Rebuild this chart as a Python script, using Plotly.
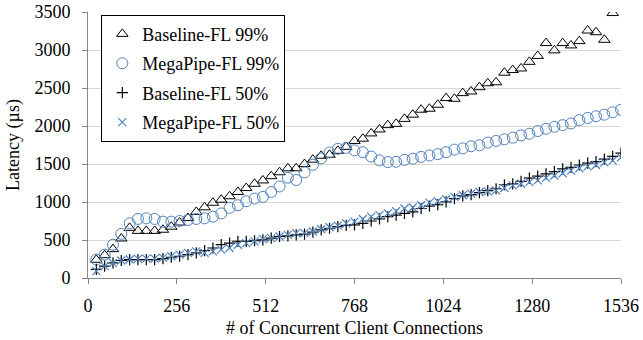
import plotly.graph_objects as go

x_vals = [24 * i for i in range(1, 65)]

baseline_99 = [240, 300, 380, 520, 660, 620, 620, 620, 635, 675, 730, 790, 870, 930, 990, 1030,
               1076, 1132, 1184, 1240, 1284, 1340, 1392, 1444, 1444, 1500, 1557, 1609, 1622, 1674, 1726,
               1804, 1834, 1903, 1955, 2012, 2029, 2094, 2150, 2215, 2228, 2280, 2368, 2359, 2433, 2455, 2511,
               2563, 2576, 2702, 2737, 2758, 2845, 2923, 3092, 2996, 3092, 3061, 3118, 3257, 3235, 3135, 3487]

megapipe_99 = [243, 308, 438, 581, 720, 777, 785, 777, 742, 742, 750, 763, 777, 785, 807, 850,
               924, 958, 1010, 1045, 1067, 1132, 1205, 1320, 1290, 1390, 1490, 1575, 1652, 1700, 1712,
               1680, 1656, 1598, 1548, 1526, 1530, 1555, 1570, 1594, 1613, 1630, 1656, 1690, 1706, 1734, 1747,
               1782, 1804, 1825, 1847, 1877, 1899, 1934, 1964, 1990, 2012, 2034, 2077, 2107, 2129, 2150, 2181, 2215]

baseline_50 = [113, 156, 199, 230, 243, 243, 243, 243, 256, 273, 286, 308, 330, 360, 395, 438,
               460, 481, 481, 490, 503, 525, 546, 555, 568, 577, 603, 633, 655, 676, 692,
               698, 720, 750, 777, 807, 828, 850, 871, 915, 945, 967, 1002, 1045, 1080, 1097, 1123,
               1150, 1175, 1227, 1240, 1271, 1314, 1340, 1370, 1401, 1435, 1457, 1487, 1513, 1531, 1565, 1600, 1643]

megapipe_50 = [91, 156, 199, 230, 243, 251, 256, 256, 265, 286, 308, 330, 351, 330, 351, 373,
               395, 438, 460, 481, 512, 525, 546, 568, 590, 590, 612, 642, 668, 690, 720,
               742, 777, 807, 828, 850, 880, 915, 928, 958, 993, 1010, 1037, 1067, 1089, 1110, 1132,
               1140, 1154, 1184, 1219, 1240, 1262, 1284, 1318, 1349, 1379, 1414, 1444, 1470, 1487, 1522, 1544, 1587]

x_ticks = [0, 256, 512, 768, 1024, 1280, 1536]
y_ticks = [0, 500, 1000, 1500, 2000, 2500, 3000, 3500]

BLUE = "#4F81BD"
FONT = "Times New Roman"

fig = go.Figure()
fig.add_trace(go.Scatter(x=x_vals[:len(baseline_99)], y=baseline_99, mode="markers", name="Baseline-FL 99%",
                         legendgroup="a",
                         marker=dict(symbol="triangle-up-open", size=10, color="black", line=dict(width=1, color="black"))))
fig.add_trace(go.Scatter(x=x_vals, y=megapipe_99, mode="markers", name="MegaPipe-FL 99%",
                         legendgroup="b",
                         marker=dict(symbol="circle-open", size=11, color=BLUE, line=dict(width=1, color=BLUE))))
fig.add_trace(go.Scatter(x=x_vals, y=baseline_50, mode="markers", name="Baseline-FL 50%",
                         legendgroup="c",
                         marker=dict(symbol="cross-thin-open", size=8, color="black", line=dict(width=1.2, color="black"))))
fig.add_trace(go.Scatter(x=x_vals, y=megapipe_50, mode="markers", name="MegaPipe-FL 50%",
                         legendgroup="d",
                         marker=dict(symbol="x-thin-open", size=8, color=BLUE, line=dict(width=1.2, color=BLUE))))

fig.update_layout(
    width=643, height=340,
    margin=dict(l=88, r=22, t=12, b=62),
    paper_bgcolor="white", plot_bgcolor="white",
    font=dict(family=FONT, size=18, color="black"),
    showlegend=True,
    legend=dict(x=0.025, y=0.99, xanchor="left", yanchor="top",
                bordercolor="black", borderwidth=1, bgcolor="white",
                font=dict(family=FONT, size=18, color="black"),
                itemwidth=30, tracegroupgap=3, traceorder="grouped"),
    xaxis=dict(range=[0, 1536], tickvals=x_ticks, ticktext=[str(v) for v in x_ticks],
               showgrid=False, zeroline=False, showline=True, linecolor="#868686", linewidth=1,
               ticks="outside", ticklen=5, tickcolor="#868686", ticklabelstandoff=6,
               tickfont=dict(family=FONT, size=18), ticklabeloverflow="allow", automargin=False,
               title=dict(text="# of Concurrent Client Connections", font=dict(family=FONT, size=18), standoff=6)),
    yaxis=dict(range=[0, 3501], tickvals=y_ticks, ticktext=[str(v) for v in y_ticks],
               showgrid=True, gridcolor="#D9D9D9", gridwidth=1, zeroline=False,
               showline=True, linecolor="#868686", linewidth=1,
               ticks="outside", ticklen=5, tickcolor="#868686", ticklabelstandoff=8,
               tickfont=dict(family=FONT, size=18), ticklabeloverflow="allow", automargin=False,
               title=dict(text="Latency (µs)", font=dict(family=FONT, size=18), standoff=10)),
)

fig.write_html("out.html")
